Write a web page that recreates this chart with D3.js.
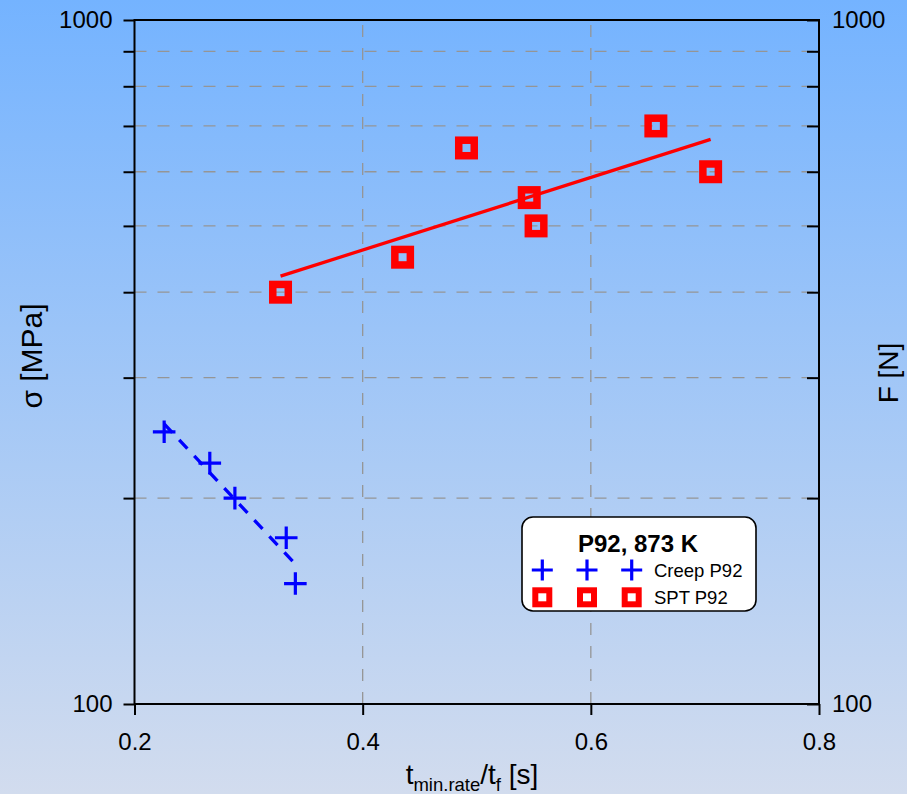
<!DOCTYPE html>
<html>
<head>
<meta charset="utf-8">
<script src="https://cdn.jsdelivr.net/npm/d3@7"></script>
<style>
  html, body { margin: 0; padding: 0; }
  body { width: 907px; height: 794px; overflow: hidden; }
  text { font-family: "Liberation Sans", Arial, sans-serif; }
</style>
</head>
<body>
<div id="chart"></div>
<script>
// creep test points (blue crosses)
const creepX = [0.226, 0.266, 0.288, 0.333, 0.341];
const creepStress = [250, 225, 200, 175, 150];
// small punch test points (red squares)
const sptX = [0.328, 0.435, 0.491, 0.546, 0.552, 0.657, 0.705];
const sptStress = [400, 450, 650, 550, 500, 700, 600];

const xTicks = [0.2, 0.4, 0.6, 0.8];
const yTicks = [100, 200, 300, 400, 500, 600, 700, 800, 900, 1000];
const yLabels = [100, 1000];
const legendTitle = "P92, 873 K";
const legendNames = ["Creep P92", "SPT P92"];

const W = 907, H = 794;
const plot = { left: 134.5, right: 819, top: 20, bottom: 704 };

const svg = d3.select("#chart").append("svg")
    .attr("width", W)
    .attr("height", H);

// background gradient
const grad = svg.append("defs").append("linearGradient")
    .attr("id", "bg")
    .attr("x1", 0).attr("y1", 0).attr("x2", 0).attr("y2", 1);
grad.append("stop").attr("offset", "0%").attr("stop-color", "#74b3ff");
grad.append("stop").attr("offset", "100%").attr("stop-color", "#d2dcee");
svg.append("rect").attr("width", W).attr("height", H).attr("fill", "url(#bg)");

const x = d3.scaleLinear().domain([0.2, 0.8]).range([plot.left, plot.right]);
const y = d3.scaleLog().domain([100, 1000]).range([plot.bottom, plot.top]);

// dashed grid
const grid = svg.append("g")
    .attr("stroke", "#959595")
    .attr("stroke-width", 1.3)
    .attr("stroke-dasharray", "12,11");
grid.selectAll(".gy")
    .data(yTicks.filter(v => v > 100 && v < 1000))
    .enter().append("line")
    .attr("x1", plot.left).attr("x2", plot.right)
    .attr("y1", d => y(d)).attr("y2", d => y(d));
grid.selectAll(".gx")
    .data(xTicks.filter(v => v > 0.2 && v < 0.8))
    .enter().append("line")
    .attr("y1", plot.bottom).attr("y2", plot.top)
    .attr("x1", d => x(d)).attr("x2", d => x(d));

// axes
const fmtY = d => yLabels.includes(d) ? d : "";
const styleAxis = g => {
    g.select(".domain").remove();
    g.selectAll("line").attr("stroke", "#000").attr("stroke-width", 2);
    g.selectAll("text").attr("fill", "#000")
        .style("font-size", "24px")
        .style("font-family", "'Liberation Sans', Arial, sans-serif");
};

svg.append("g")
    .attr("transform", `translate(${plot.left},0)`)
    .call(d3.axisLeft(y).tickValues(yTicks).tickFormat(fmtY).tickSizeInner(11).tickSizeOuter(0).tickPadding(11))
    .call(styleAxis);

svg.append("g")
    .attr("transform", `translate(${plot.right},0)`)
    .call(d3.axisRight(y).tickValues(yTicks).tickFormat(fmtY).tickSizeInner(-12).tickSizeOuter(0).tickPadding(13))
    .call(styleAxis);

svg.append("g")
    .attr("transform", `translate(0,${plot.bottom})`)
    .call(d3.axisBottom(x).tickValues(xTicks).tickFormat(d3.format(".1f")).tickSizeInner(11).tickSizeOuter(0).tickPadding(18))
    .call(styleAxis);

// frame
svg.append("rect")
    .attr("x", plot.left).attr("y", plot.top)
    .attr("width", plot.right - plot.left).attr("height", plot.bottom - plot.top)
    .attr("fill", "none").attr("stroke", "#000").attr("stroke-width", 2);

// least squares fit of log10(stress) against x
function fitLine(xs, ys) {
    const ly = ys.map(v => Math.log10(v));
    const mx = d3.mean(xs), my = d3.mean(ly);
    const sxy = d3.sum(xs, (v, i) => (v - mx) * (ly[i] - my));
    const sxx = d3.sum(xs, v => (v - mx) * (v - mx));
    const b = sxy / sxx;
    const [x0, x1] = d3.extent(xs);
    return [x0, x1].map(v => [v, Math.pow(10, my + b * (v - mx))]);
}

const line = d3.line().x(d => x(d[0])).y(d => y(d[1]));

svg.append("path")
    .attr("d", line(fitLine(creepX, creepStress)))
    .attr("fill", "none").attr("stroke", "#0000ff")
    .attr("stroke-width", 3.3).attr("stroke-dasharray", "12,10");

svg.append("path")
    .attr("d", line(fitLine(sptX, sptStress)))
    .attr("fill", "none").attr("stroke", "#ff0000")
    .attr("stroke-width", 3.3);

// markers
const plusPath = s => `M${-s},0H${s}M0,${-s}V${s}`;

svg.append("g").selectAll("path")
    .data(creepX.map((v, i) => [v, creepStress[i]]))
    .enter().append("path")
    .attr("transform", d => `translate(${x(d[0])},${y(d[1])})`)
    .attr("d", plusPath(11.3))
    .attr("stroke", "#0000ff").attr("stroke-width", 3.2).attr("fill", "none");

svg.append("g").selectAll("rect")
    .data(sptX.map((v, i) => [v, sptStress[i]]))
    .enter().append("rect")
    .attr("x", d => x(d[0]) - 7.75).attr("y", d => y(d[1]) - 7.75)
    .attr("width", 15.5).attr("height", 15.5)
    .attr("fill", "none").attr("stroke", "#ff0000").attr("stroke-width", 7.5);

// legend
const lg = svg.append("g");
lg.append("rect")
    .attr("x", 522).attr("y", 517).attr("width", 234).attr("height", 94)
    .attr("rx", 11).attr("fill", "#fff").attr("stroke", "#000").attr("stroke-width", 1.6);
lg.append("text")
    .attr("x", 638).attr("y", 551.5).attr("text-anchor", "middle")
    .style("font-size", "24px").style("font-weight", "bold")
    .text(legendTitle);

const legendX = [542.3, 587, 631.7];
legendX.forEach(cx => {
    lg.append("path")
        .attr("transform", `translate(${cx},570)`)
        .attr("d", plusPath(10.5))
        .attr("stroke", "#0000ff").attr("stroke-width", 3.2).attr("fill", "none");
    lg.append("rect")
        .attr("x", cx - 7).attr("y", 597.3 - 7).attr("width", 14).attr("height", 14)
        .attr("fill", "none").attr("stroke", "#ff0000").attr("stroke-width", 6);
});
lg.selectAll(".name")
    .data(legendNames)
    .enter().append("text")
    .attr("x", 654).attr("y", (d, i) => 577 + i * 26.5)
    .style("font-size", "18.5px")
    .text(d => d);

// axis titles
svg.append("text")
    .attr("transform", "translate(42,356) rotate(-90)")
    .attr("text-anchor", "middle")
    .style("font-size", "30px")
    .text("σ [MPa]");

svg.append("text")
    .attr("transform", "translate(898,373) rotate(-90)")
    .attr("text-anchor", "middle")
    .style("font-size", "28px")
    .text("F [N]");

const xt = svg.append("text")
    .attr("x", 472).attr("y", 784)
    .attr("text-anchor", "middle")
    .style("font-size", "28px");
xt.append("tspan").text("t");
xt.append("tspan").attr("dy", 7).style("font-size", "18.5px").text("min.rate");
xt.append("tspan").attr("dy", -7).text("/t");
xt.append("tspan").attr("dy", 7).style("font-size", "18.5px").text("f");
xt.append("tspan").attr("dy", -7).text(" [s]");
</script>
</body>
</html>
